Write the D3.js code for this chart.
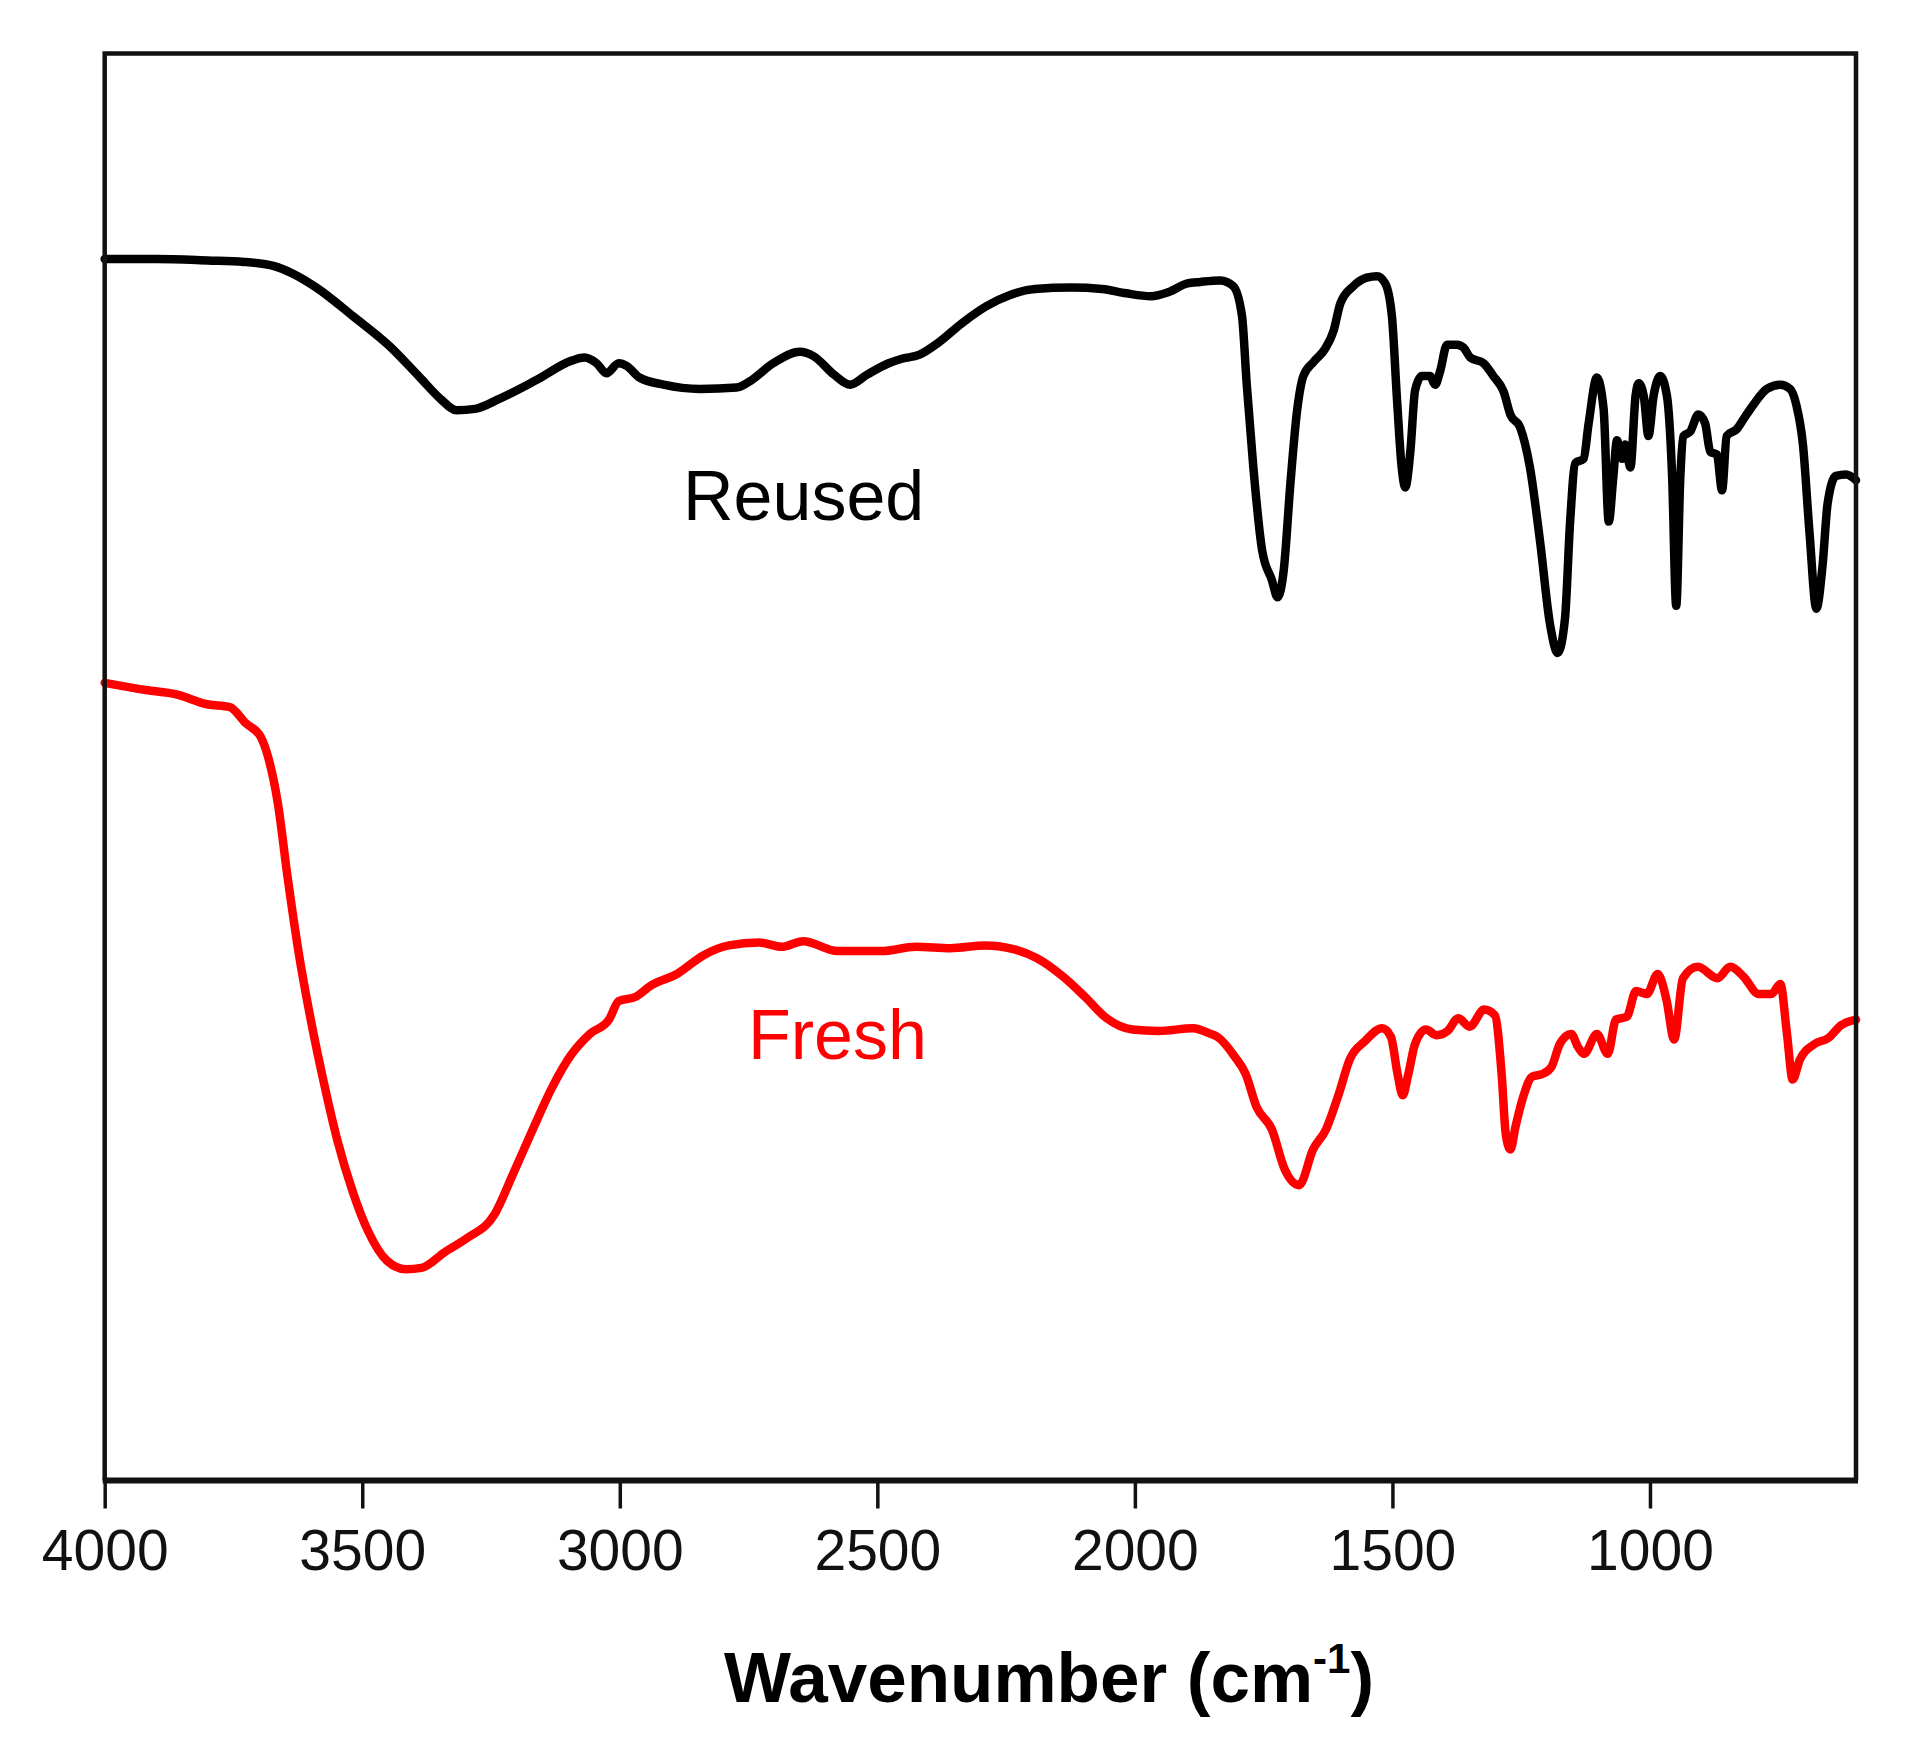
<!DOCTYPE html>
<html>
<head>
<meta charset="utf-8">
<script src="https://cdn.jsdelivr.net/npm/d3@7"></script>
<style>
  html, body { margin: 0; padding: 0; background: #fff; }
  svg { display: block; }
  text { font-family: "Liberation Sans", Arial, sans-serif; }
</style>
</head>
<body>
<svg id="chart" width="1909" height="1761"></svg>
<script>
// Tick labels (wavenumber, cm^-1)
const xTicks = [4000, 3500, 3000, 2500, 2000, 1500, 1000];

// Series labels
const seriesNames = ["Reused", "Fresh"];

// Reused catalyst spectrum: [wavenumber, transmittance (a.u.)]
const reused = [
  [4000,85.6],[3900,85.6],[3800,85.5],[3730,85.4],[3671,85.1],[3636,84.6],[3589,83.6],[3518,81.6],
  [3447,79.5],[3388,77.3],[3348,75.8],[3317,75.0],[3281,75.1],[3234,75.8],[3163,77.1],[3092,78.5],
  [3069,78.7],[3045,78.3],[3026,77.6],[3002,78.3],[2986,78.1],[2962,77.3],[2915,76.8],[2844,76.5],
  [2773,76.6],[2749,77.0],[2702,78.3],[2650,79.1],[2624,78.8],[2584,77.5],[2553,76.8],[2520,77.5],
  [2478,78.3],[2454,78.6],[2418,78.9],[2383,79.7],[2336,81.1],[2288,82.3],[2241,83.1],[2194,83.5],
  [2123,83.6],[2064,83.5],[2017,83.2],[1969,83.0],[1934,83.3],[1898,83.9],[1873,84.0],[1834,84.1],
  [1809,83.7],[1792,81.6],[1783,76.9],[1770,71.0],[1753,65.2],[1734,63.1],[1723,61.9],[1711,63.8],
  [1698,69.9],[1685,75.0],[1673,77.4],[1653,78.4],[1631,79.3],[1614,80.6],[1601,82.5],[1576,83.7],
  [1550,84.3],[1530,84.4],[1514,83.9],[1501,81.6],[1491,75.7],[1482,71.0],[1475,69.6],[1465,72.2],
  [1456,76.4],[1443,77.4],[1427,77.4],[1417,76.8],[1407,77.8],[1394,79.6],[1375,79.6],[1362,79.4],
  [1349,78.7],[1323,78.3],[1304,77.4],[1284,76.3],[1271,74.7],[1252,73.8],[1233,71.0],[1213,65.7],
  [1194,60.0],[1179,58.0],[1165,60.4],[1155,67.2],[1145,71.3],[1129,71.6],[1119,74.1],[1103,77.3],
  [1090,75.1],[1080,67.2],[1071,70.4],[1064,72.9],[1054,71.6],[1048,72.6],[1038,71.0],[1028,76.0],
  [1022,76.9],[1012,76.0],[1003,73.2],[993,76.0],[980,77.4],[967,76.0],[957,70.4],[949,61.3],
  [941,70.4],[935,73.2],[922,73.5],[906,74.7],[893,74.1],[883,72.1],[870,71.9],[860,69.4],
  [851,73.2],[831,73.7],[818,74.4],[799,75.4],[773,76.5],[747,76.8],[728,76.5],[716,75.4],
  [703,72.6],[690,66.3],[677,61.1],[665,64.1],[655,68.5],[639,70.4],[619,70.5],[600,70.1]
];

// Fresh catalyst spectrum: [wavenumber, transmittance (a.u.)]
const fresh = [
  [4000,55.9],[3920,55.4],[3861,55.1],[3801,54.4],[3757,54.2],[3727,53.1],[3697,52.1],[3682,50.6],
  [3664,47.5],[3645,42.3],[3623,36.9],[3600,32.3],[3574,27.8],[3548,23.8],[3519,20.3],[3489,17.5],
  [3452,15.4],[3415,14.8],[3385,14.9],[3340,16.0],[3296,17.0],[3244,18.6],[3207,21.5],[3169,24.6],
  [3132,27.5],[3095,29.8],[3058,31.3],[3021,32.3],[3002,33.6],[2969,33.9],[2939,34.7],[2889,35.5],
  [2838,36.8],[2788,37.5],[2729,37.7],[2686,37.4],[2644,37.8],[2577,37.1],[2493,37.1],[2425,37.4],
  [2358,37.3],[2291,37.5],[2232,37.2],[2190,36.6],[2139,35.3],[2097,33.9],[2055,32.4],[2005,31.6],
  [1954,31.5],[1887,31.7],[1853,31.3],[1840,31.1],[1806,29.7],[1785,28.5],[1764,26.2],[1734,24.6],
  [1709,21.8],[1681,20.7],[1654,23.2],[1629,24.6],[1604,27.1],[1583,29.5],[1553,30.8],[1520,31.7],
  [1503,31.1],[1490,28.5],[1480,27.0],[1469,28.5],[1456,30.6],[1435,31.6],[1414,31.2],[1393,31.5],
  [1372,32.4],[1350,31.8],[1322,33.0],[1301,32.6],[1288,28.5],[1280,24.3],[1271,23.2],[1261,24.8],
  [1246,26.9],[1229,28.3],[1208,28.5],[1191,29.0],[1175,30.6],[1153,31.3],[1140,30.4],[1128,29.9],
  [1103,31.3],[1082,29.9],[1066,32.3],[1045,32.5],[1027,34.3],[1006,34.1],[985,35.5],[968,33.7],
  [953,30.9],[936,35.2],[907,36.0],[869,35.2],[844,36.0],[818,35.3],[789,34.1],[764,34.1],
  [747,34.8],[734,31.3],[723,28.1],[709,29.5],[680,30.6],[654,31.0],[629,31.9],[600,32.3]
];

const svg = d3.select("#chart");
const plotLeft = 104.7, plotRight = 1856, plotTop = 53.6, plotBottom = 1480.5;

const x = d3.scaleLinear().domain([4000, 600]).range([plotLeft, plotRight]);
const y = d3.scaleLinear().domain([0, 100]).range([plotBottom, plotTop]);

const line = d3.line()
  .x(d => x(d[0]))
  .y(d => y(d[1]))
  .curve(d3.curveMonotoneX);

// Curves
svg.append("path").datum(reused)
  .attr("d", line).attr("fill", "none")
  .attr("stroke", "#000").attr("stroke-width", 8.5)
  .attr("stroke-linejoin", "round").attr("stroke-linecap", "round");

svg.append("path").datum(fresh)
  .attr("d", line).attr("fill", "none")
  .attr("stroke", "#ff0000").attr("stroke-width", 8.5)
  .attr("stroke-linejoin", "round").attr("stroke-linecap", "round");

// Frame (top, left, right)
svg.append("path")
  .attr("d", `M${plotLeft},${plotBottom} L${plotLeft},${plotTop} L${plotRight},${plotTop} L${plotRight},${plotBottom}`)
  .attr("fill", "none").attr("stroke", "#111").attr("stroke-width", 4.5)
  .attr("stroke-linejoin", "miter");

// Bottom axis
const xAxis = d3.axisBottom(x)
  .tickValues(xTicks)
  .tickSize(28)
  .tickPadding(21)
  .tickFormat(d3.format("d"));

const gx = svg.append("g")
  .attr("transform", `translate(0,${plotBottom})`)
  .call(xAxis);
gx.select(".domain").remove();
gx.selectAll(".tick line").attr("stroke", "#111").attr("stroke-width", 3.5);
gx.selectAll(".tick text")
  .attr("fill", "#111")
  .style("font-family", '"Liberation Sans", Arial, sans-serif')
  .style("font-size", "57px");

svg.append("line")
  .attr("x1", plotLeft - 2).attr("x2", plotRight + 2)
  .attr("y1", plotBottom).attr("y2", plotBottom)
  .attr("stroke", "#111").attr("stroke-width", 6);

// Series labels
svg.append("text")
  .attr("x", 683).attr("y", 520)
  .attr("font-size", 70).attr("fill", "#000")
  .text(seriesNames[0]);

svg.append("text")
  .attr("x", 748).attr("y", 1059)
  .attr("font-size", 70).attr("fill", "#ff0000")
  .text(seriesNames[1]);

// Axis title
const title = svg.append("text")
  .attr("x", 1049).attr("y", 1702)
  .attr("text-anchor", "middle")
  .attr("font-size", 71).attr("font-weight", "bold").attr("fill", "#000");
title.append("tspan").text("Wavenumber (cm");
title.append("tspan").attr("dy", -29).attr("font-size", 42).text("-1");
title.append("tspan").attr("dy", 29).text(")");
</script>
</body>
</html>
